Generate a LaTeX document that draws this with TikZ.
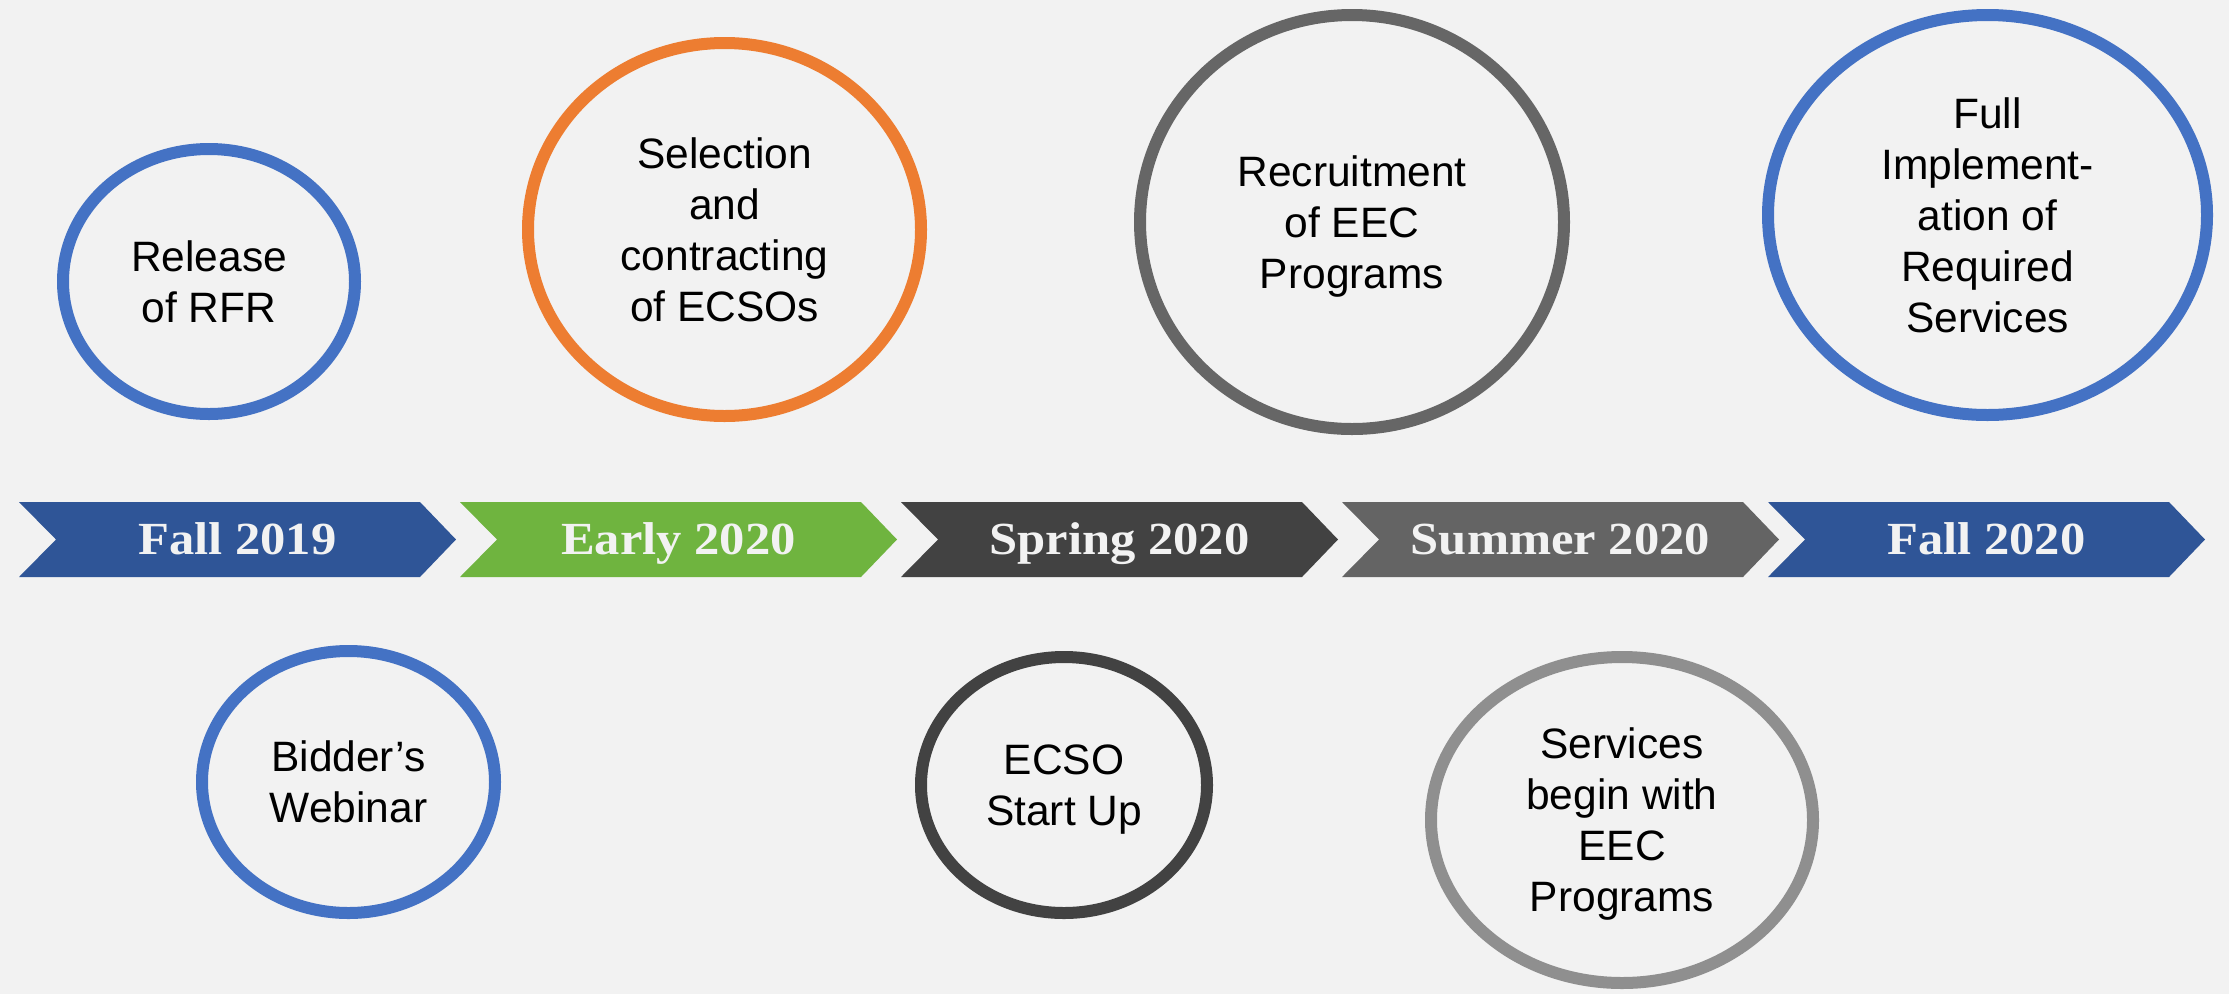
\documentclass[tikz,border=0pt]{standalone}
\usepackage{fontspec}
\setmainfont{Liberation Sans}
\newfontfamily\chevfont{Liberation Serif}[FakeStretch=1.1]
\usetikzlibrary{shapes.geometric}
\definecolor{bg}{HTML}{F2F2F2}
\definecolor{eblue}{HTML}{4472C4}
\definecolor{eorange}{HTML}{ED7D31}
\definecolor{egray}{HTML}{666666}
\definecolor{edark}{HTML}{424242}
\definecolor{elight}{HTML}{8F8F8F}
\definecolor{cblue}{HTML}{2F5597}
\definecolor{cgreen}{HTML}{6FB43F}
\definecolor{cdark}{HTML}{424242}
\definecolor{cgray}{HTML}{646464}
\begin{document}
\begin{tikzpicture}[x=1pt,y=-1pt,
  evt/.style={ellipse, draw=#1, line width=12pt, inner sep=0pt, align=center,
    text=black, font=\fontsize{42.5}{51}\selectfont},
  chevtext/.style={anchor=base, text=bg, inner sep=0pt,
    font=\chevfont\bfseries\fontsize{46}{50}\selectfont}]
\fill[bg] (0,0) rectangle (2229,994);
\useasboundingbox (0,0) rectangle (2229,994);

% timeline chevrons
\foreach \xl/\col/\txt/\nm in {19/cblue/Fall 2019/c1, 460/cgreen/Early 2020/c2, 901/cdark/Spring 2020/c3, 1342/cgray/Summer 2020/c4, 1768/cblue/Fall 2020/c5}{
  \fill[\col] (\xl,502) -- (\xl+401,502) -- (\xl+437,539.5) -- (\xl+401,577) -- (\xl,577) -- (\xl+37,539.5) -- cycle;
  \node[chevtext] (\nm) at (\xl+218.5,554) {\txt};
}

% milestones above
\node[evt=eblue, minimum width=292pt, minimum height=265pt] (rel) at (209,281.5) {Release\\of RFR};
\node[evt=eorange, minimum width=393pt, minimum height=373pt] (sel) at (724.5,229.5) {Selection\\and\\contracting\\of ECSOs};
\node[evt=egray, minimum width=424pt, minimum height=414pt] (rec) at (1352,222) {Recruitment\\of EEC\\\smash{Programs}};
\node[evt=eblue, minimum width=439pt, minimum height=400pt] (full) at (1987.5,215) {Full\\Implement-\\ation of\\Required\\Services};

% milestones below
\node[evt=eblue, minimum width=293pt, minimum height=262pt] (bid) at (348.5,782) {Bidder’s\\Webinar};
\node[evt=edark, minimum width=286pt, minimum height=256pt] (ecso) at (1064,785) {ECSO\\\smash{Start Up}};
\node[evt=elight, minimum width=382pt, minimum height=326pt] (serv) at (1622,820) {Services\\begin with\\EEC\\\smash{Programs}};
\end{tikzpicture}
\end{document}
